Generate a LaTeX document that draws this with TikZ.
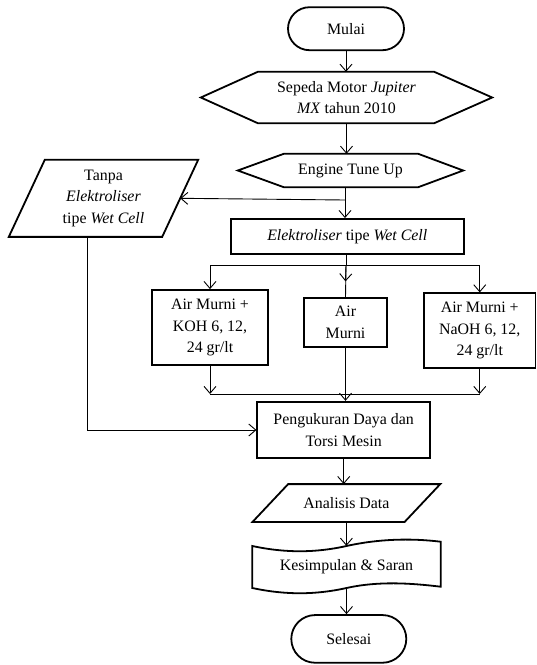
\documentclass[tikz,border=0pt]{standalone}
\usepackage{fontspec}
\setmainfont{Liberation Serif}
\usetikzlibrary{shapes.misc,arrows.meta}

\tikzset{
	box/.style={draw, line width=1.8pt, align=center, inner sep=2pt},
	txt/.style={align=center, inner sep=2pt},
	edge/.style={line width=1.8pt, line join=miter},
	arr/.style={-{Straight Barb[length=7pt,width=12pt]}, line width=0.9pt},
	lin/.style={line width=0.9pt},
}

\begin{document}
\begin{tikzpicture}[x=1pt,y=-1pt,font=\fontsize{15.9}{21.5}\selectfont]
	\useasboundingbox (0,0) rectangle (537,665);
	
	%start
	\node[box, rounded rectangle, minimum width=120pt, minimum height=43pt] (mulai) at (346,28.7){Mulai};
	
	%preparation
	\node[txt, minimum width=291pt, minimum height=51pt] (motor) at (346.5,97.5){Sepeda Motor \textit{Jupiter}\\\textit{MX} tahun 2010};
	\draw[edge] (motor.west) -- ([xshift=57pt]motor.north west) -- ([xshift=-58pt]motor.north east) -- (motor.east) -- ([xshift=-58pt]motor.south east) -- ([xshift=57pt]motor.south west) -- cycle;
	
	\node[txt, minimum width=225pt, minimum height=33pt] (engine) at (350.5,170.5){Engine Tune Up};
	\draw[edge] (engine.west) -- ([xshift=46pt]engine.north west) -- ([xshift=-45pt]engine.north east) -- (engine.east) -- ([xshift=-45pt]engine.south east) -- ([xshift=46pt]engine.south west) -- cycle;
	
	%without electrolyser
	\node[txt, minimum width=189pt, minimum height=76.7pt] (tanpa) at (103.5,198.3){Tanpa\\\textit{Elektroliser}\\tipe \textit{Wet Cell}};
	\draw[edge] (tanpa.south west) -- ([xshift=36pt]tanpa.north west) -- (tanpa.north east) -- ([xshift=-36pt]tanpa.south east) -- cycle;
	
	%electrolyser and solutions
	\node[box, minimum width=233pt, minimum height=34.7pt] (elektro) at (347.3,236.3){\textit{Elektroliser} tipe \textit{Wet Cell}};
	\node[box, minimum width=115.4pt, minimum height=75pt] (koh) at (210,327.5){Air Murni +\\KOH 6, 12,\\24 gr/lt};
	\node[box, minimum width=82.4pt, minimum height=48.4pt] (airm) at (345.5,322.5){Air\\Murni};
	\node[box, minimum width=111.5pt, minimum height=75pt] (naoh) at (479.75,330.8){Air Murni +\\NaOH 6, 12,\\24 gr/lt};
	
	%measurement and result
	\node[box, minimum width=172.7pt, minimum height=56.6pt] (peng) at (343.7,430){Pengukuran Daya dan\\Torsi Mesin};
	
	\node[txt, minimum width=187.3pt, minimum height=37.4pt] (data) at (346.4,503){Analisis Data};
	\draw[edge] (data.south west) -- ([xshift=35.6pt]data.north west) -- (data.north east) -- ([xshift=-35.6pt]data.south east) -- cycle;
	
	\node[txt, minimum width=188.4pt, minimum height=42pt] (simpul) at (346.5,567){Kesimpulan \& Saran};
	\draw[edge] (252.3,546) .. controls (285,553) and (315,553) .. (346.5,546) .. controls (378,539) and (410,538) .. (440.7,541.7) -- (440.7,586.7) .. controls (410,583) and (378,581) .. (346.5,588) .. controls (315,595) and (285,595) .. (252.3,588) -- cycle;
	
	%end
	\node[box, rounded rectangle, minimum width=119pt, minimum height=47.7pt] (selesai) at (348.8,638.9){Selesai};
	
	%junctions
	\coordinate (j1) at (345,200);
	\coordinate (s0) at (346,265.5);
	\coordinate (s1) at (210,265.5);
	\coordinate (s3) at (479.75,265.5);
	\coordinate (m1) at (210,394);
	\coordinate (m3) at (479.75,394);
	
	\draw[arr] (mulai.south) -- (mulai.south |- motor.north);
	\draw[arr] (motor.south) -- (motor.south |- engine.north);
	
	\draw[lin] (engine.south -| j1) -- (j1);
	\draw[arr] (j1) -- (j1 |- elektro.north);
	\draw[arr] (j1) -- ([xshift=-18pt]tanpa.east);
	
	\draw[lin] (elektro.south -| s0) -- (s0);
	\draw[lin] (s1) -- (s3);
	\draw[arr] (s1) -- (koh.north);
	\draw[lin] (s0) -- (airm.north);
	\draw[arr] (s0) -- ([yshift=16pt]airm.north);
	\draw[arr] (s3) -- (naoh.north);
	
	\draw[arr] (koh.south) -- (m1);
	\draw[arr] (naoh.south) -- (m3);
	\draw[lin] (m1) -- (m3);
	\draw[arr] (airm.south) -- (airm.south |- peng.north);
	
	\draw[arr] ([xshift=-16pt]tanpa.south) |- (peng.west);
	
	\draw[arr] (peng.south) -- (peng.south |- data.north);
	\draw[arr] (data.south) -- (data.south |- simpul.north);
	\draw[arr] (simpul.south) -- (simpul.south |- selesai.north);
	
\end{tikzpicture}
\end{document}
